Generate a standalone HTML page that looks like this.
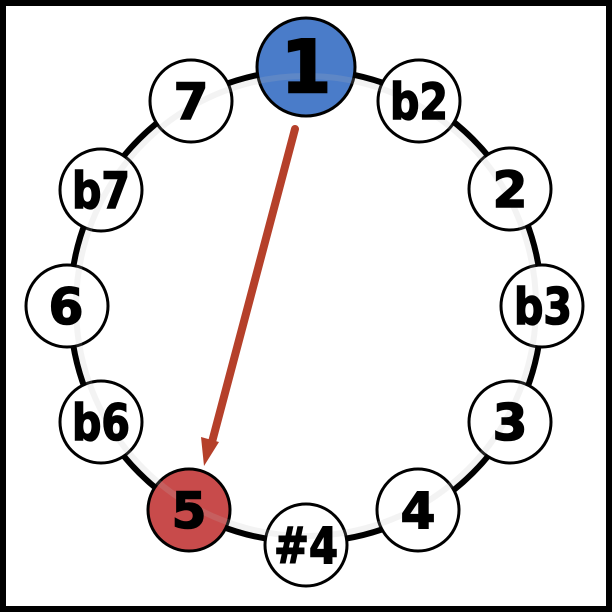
<!DOCTYPE html>
<html><head><style>html,body{margin:0;padding:0;background:#fff}</style></head><body>
<svg width="612" height="612" xmlns="http://www.w3.org/2000/svg" style="display:block">
<rect x="3" y="3" width="606" height="606" fill="#fff" stroke="#000" stroke-width="6"/>
<circle cx="306" cy="306" r="236" fill="none" stroke="#000" stroke-width="6"/>
<g stroke="#000" stroke-width="3" fill="#fff">
<circle cx="419" cy="101" r="41"/>
<circle cx="510" cy="189" r="41"/>
<circle cx="542" cy="306" r="41"/>
<circle cx="510" cy="422" r="41"/>
<circle cx="418" cy="510" r="41"/>
<circle cx="306" cy="545" r="41"/>
<circle cx="189" cy="510" r="41" fill="#c84b4b"/>
<circle cx="101" cy="422" r="41"/>
<circle cx="67" cy="306" r="41"/>
<circle cx="101" cy="190" r="41"/>
<circle cx="191" cy="101" r="41"/>
<circle cx="306" cy="67" r="49" fill="#4a7cc9"/>
</g>
<circle cx="306" cy="306" r="230" fill="none" stroke="#bbb" stroke-opacity="0.18" stroke-width="6"/>
<g font-family="DejaVu Sans, sans-serif" font-weight="bold" font-size="50" text-anchor="middle" fill="#000" stroke="#000" stroke-width="1.6">
<text x="306" y="92" font-size="72" stroke-width="2.5">1</text>
<text x="419" y="119" textLength="58" lengthAdjust="spacingAndGlyphs">b2</text>
<text x="510" y="207">2</text>
<text x="543" y="324" textLength="58" lengthAdjust="spacingAndGlyphs">b3</text>
<text x="510" y="440">3</text>
<text x="418" y="528">4</text>
<text x="306" y="563" textLength="64" lengthAdjust="spacingAndGlyphs">#4</text>
<text x="189" y="528">5</text>
<text x="101" y="440" textLength="58" lengthAdjust="spacingAndGlyphs">b6</text>
<text x="66" y="324">6</text>
<text x="101" y="208" textLength="58" lengthAdjust="spacingAndGlyphs">b7</text>
<text x="191" y="119">7</text>
</g>
<line x1="295" y1="129" x2="212" y2="442" stroke="#b5402a" stroke-width="8" stroke-linecap="round"/>
<polygon points="204,466 201,437 219,442" fill="#b5402a"/>
</svg>
</body></html>
